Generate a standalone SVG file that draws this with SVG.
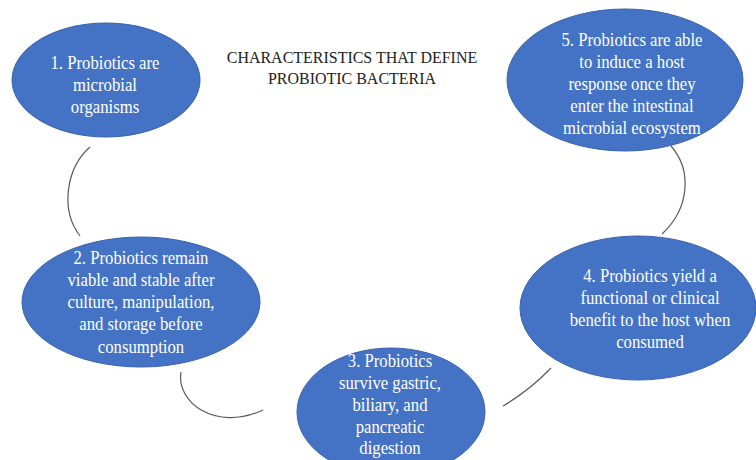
<svg xmlns="http://www.w3.org/2000/svg" width="756" height="460" viewBox="0 0 756 460">
<style>
.node ellipse{fill:#4472C4;stroke:#3A63AE;stroke-width:1}
.node text{font-family:"Liberation Serif","Times New Roman",serif;font-size:19px;fill:#ffffff;text-anchor:middle}
.title{font-family:"Liberation Serif","Times New Roman",serif;font-size:17px;fill:#222222;text-anchor:middle}
.conn path{fill:none;stroke:#5a5a5a;stroke-width:1.2}
</style>
<rect width="756" height="460" fill="#ffffff"/>
<g transform="matrix(0.94 0 0 1 21.12 0)">
<text class="title" x="352" y="63">CHARACTERISTICS THAT DEFINE</text>
<text class="title" x="352" y="84">PROBIOTIC BACTERIA</text>
</g>
<g id="connectors" class="conn">
<path d="M 90 147 C 66 168, 60 210, 80 236"/>
<path d="M 181 372 C 176 402, 215 432, 263 410"/>
<path d="M 503 406 Q 530 390 551 368"/>
<path d="M 671 146 C 692 170, 690 208, 662 234"/>
</g>
<g id="node1" class="node">
<ellipse cx="106" cy="80" rx="94" ry="57"/>
<g transform="matrix(0.88 0 0 1 12.6 0)">
<text x="105" y="69">1. Probiotics are</text>
<text x="105" y="91">microbial</text>
<text x="105" y="113">organisms</text>
</g>
</g>
<g id="node2" class="node">
<ellipse cx="141" cy="302" rx="119" ry="65"/>
<g transform="matrix(0.88 0 0 1 16.92 0)">
<text x="141" y="264">2. Probiotics remain</text>
<text x="141" y="286">viable and stable after</text>
<text x="141" y="308">culture, manipulation,</text>
<text x="141" y="330">and storage before</text>
<text x="141" y="353">consumption</text>
</g>
</g>
<g id="node3" class="node">
<ellipse cx="391" cy="412" rx="94" ry="64"/>
<g transform="matrix(0.88 0 0 1 46.8 0)">
<text x="390" y="367">3. Probiotics</text>
<text x="390" y="389">survive gastric,</text>
<text x="390" y="411">biliary, and</text>
<text x="390" y="433">pancreatic</text>
<text x="390" y="454">digestion</text>
</g>
</g>
<g id="node4" class="node">
<ellipse cx="638" cy="308" rx="118" ry="72"/>
<g transform="matrix(0.88 0 0 1 78 0)">
<text x="650" y="282">4. Probiotics yield a</text>
<text x="650" y="304">functional or clinical</text>
<text x="650" y="326">benefit to the host when</text>
<text x="650" y="348">consumed</text>
</g>
</g>
<g id="node5" class="node">
<ellipse cx="625" cy="80" rx="118" ry="71"/>
<g transform="matrix(0.88 0 0 1 75.84 0)">
<text x="632" y="46">5. Probiotics are able</text>
<text x="632" y="68">to induce a host</text>
<text x="632" y="90">response once they</text>
<text x="632" y="112">enter the intestinal</text>
<text x="632" y="134">microbial ecosystem</text>
</g>
</g>
</svg>
